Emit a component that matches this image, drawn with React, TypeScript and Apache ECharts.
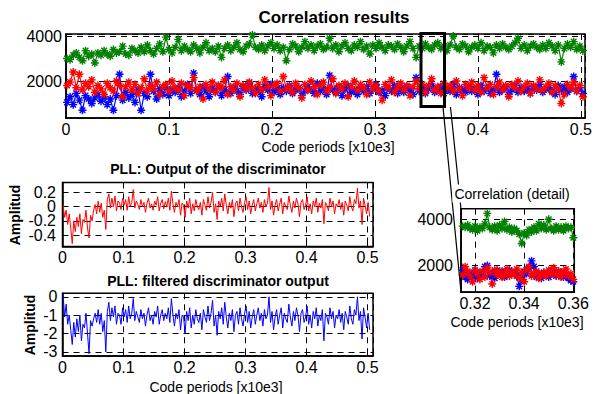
import React, { useEffect, useRef } from "react";
import * as echarts from "echarts";

const FONT = "'Liberation Sans', Arial, Helvetica, sans-serif";

// ---- Top plot: correlation results (x in code periods x10e3) ----
const TOP_X0 = 0.001;
const TOP_STEP = 0.003;
const topGreen = [
  3000, 2950, 3150, 3250, 3050, 2900, 3350, 3100, 3200, 2800, 3250, 3150,
  3350, 3200, 3100, 3400, 3250, 3300, 3550, 3200, 3150, 3450, 3350, 3250,
  3500, 3300, 3600, 3350, 3200, 3450, 3650, 3300, 3950, 3400, 3250, 3500,
  3850, 3350, 3550, 3400, 3300, 3600, 3450, 3250, 3500, 3700, 3350, 3450,
  3300, 3550, 3050, 3450, 3600, 3350, 3500, 3700, 3400, 3300, 3550, 3650,
  4050, 3500, 3400, 3600, 3350, 3550, 3700, 3450, 3600, 3350, 3500, 2900,
  3400, 3650, 3550, 3300, 3500, 3750, 3450, 3600, 3350, 3550, 3650, 3400,
  3500, 3900, 3450, 3600, 3300, 3550, 3700, 3450, 3350, 3600, 3500, 3750,
  3400, 3550, 3200, 3600, 3450, 3700, 3500, 3350, 3600, 3550, 3400, 3650,
  3500, 3300, 3550, 3750, 3450, 3050, 3550, 3450, 3650, 3500, 3400, 3600,
  3700, 3450, 3550, 3350, 3600, 4000, 3500, 3400, 3650, 3550, 3300, 3500,
  3600, 3450, 3700, 3350, 3550, 3500, 3250, 3600, 3450, 3650, 3500, 3400,
  3550, 3700, 3900, 3450, 3600, 3350, 3550, 3650, 3500, 3400, 3600, 3450,
  3700, 3550, 3350, 3600, 2850, 3450, 3650, 3500, 3750, 3400, 3550, 3350,
];
const topRed = [
  1800, 1950, 2400, 1700, 2300, 1600, 1900, 1750, 2050, 1500, 1800, 1650,
  1400, 1900, 1700, 1550, 2000, 1800, 1300, 1750, 1950, 1600, 1850, 1450,
  1700, 2100, 1550, 1800, 1650, 1950, 1400, 1750, 1850, 1550, 2000, 1700,
  1600, 1900, 1350, 1800, 1700, 2150, 1550, 1750, 1200, 1850, 1650, 1950,
  1500, 1800, 1700, 2050, 1400, 1750, 1600, 1900, 1300, 1800, 1650, 1950,
  1700, 1450, 1850, 1600, 2050, 1750, 1350, 1800, 1900, 1550, 2200, 1650,
  1750, 1500, 1900, 1700, 1250, 1850, 1600, 2000, 1750, 1400, 1800, 1950,
  1550, 1700, 2100, 1450, 1800, 1650, 1900, 1300, 1750, 2000, 1600, 1850,
  1700, 1400, 1950, 1650, 1800, 1550, 1150, 1850, 1700, 2050, 1500, 1750,
  1900, 1600, 1800, 1350, 1750, 2000, 1650, 1850, 1500, 1800, 2100, 1600,
  1750, 1450, 1900, 1700, 1800, 1550, 2000, 1650, 1350, 1850, 1700, 1950,
  1600, 1800, 1500, 2150, 1700, 1850, 1400, 1750, 1950, 1600, 1800, 1300,
  1850, 1700, 2000, 1550, 1750, 1900, 1450, 1800, 1650, 2050, 1600, 1750,
  1900, 1500, 1800, 1650, 1000, 1400, 1850, 1700, 1950, 1550, 1800, 1300,
];
const topBlue = [
  1050, 1300, 950, 1450, 1150, 700, 1350, 1200, 1000, 1250, 1400, 1100,
  1300, 950, 1200, 700, 1350, 2300, 1150, 1500, 1250, 1400, 1050, 1600,
  700, 1450, 1300, 2300, 1550, 1200, 1650, 1400, 1750, 1350, 1600, 1500,
  1700, 1300, 1550, 1850, 1450, 2350, 1600, 1400, 1750, 1550, 1300, 1650,
  1500, 1800, 1350, 1600, 2200, 1450, 1700, 1550, 1400, 1750, 1600, 1900,
  1450, 1650, 1550, 1300, 1750, 1600, 1850, 1500, 1650, 1400, 1700, 1550,
  1800, 1450, 1600, 1700, 1350, 1550, 1750, 1600, 1450, 1900, 1550, 1650,
  1400, 2250, 1600, 1500, 1750, 1350, 1650, 1800, 1500, 1600, 1400, 1700,
  1550, 1750, 1450, 1650, 1850, 1500, 1600, 1350, 1700, 1550, 1800, 1450,
  1650, 1500, 1750, 1600, 1400, 2150, 1550, 1700, 1450, 1650, 1800, 1500,
  1600, 1750, 1450, 1650, 1550, 1850, 1400, 1700, 1600, 1500, 1750, 1550,
  1650, 1400, 1800, 1550, 1700, 1450, 1600, 2300, 1500, 1650, 1750, 1400,
  1600, 1800, 1500, 1700, 1550, 1650, 1450, 1750, 1600, 1850, 1500, 1650,
  1700, 1550, 1400, 1800, 1600, 1750, 1500, 1650, 2200, 1550, 1700, 1450,
];

// ---- PLL plots ----
const PLL_X0 = 0.001;
const PLL_STEP = 0.0025;
const pllDisc = [
  0.02, -0.15, -0.05, -0.25, -0.1, -0.3, -0.52, -0.2, -0.35, -0.15,
  -0.28, -0.1, -0.38, -0.18, -0.22, -0.05, -0.3, -0.44, -0.12, -0.2,
  -0.05, 0.03, -0.1, 0.08, -0.08, 0.05, -0.15, -0.05, -0.32, 0.1,
  0.18, -0.02, 0.12, 0.0, 0.15, -0.06, 0.08, 0.05, -0.04, 0.12,
  0.02, 0.1, -0.05, 0.14, 0.0, 0.06, 0.24, -0.02, 0.08, 0.03,
  -0.04, 0.1, 0.0, 0.06, -0.08, 0.05, 0.12, -0.02, 0.04, -0.05,
  0.08, 0.02, 0.14, -0.06, 0.05, 0.1, -0.03, 0.07, 0.0, 0.12,
  -0.05, 0.22, 0.04, -0.08, 0.06, 0.0, 0.1, -0.12, 0.05, 0.02,
  -0.15, 0.08, -0.02, 0.12, -0.1, 0.04, -0.06, 0.1, 0.0, -0.04,
  0.06, -0.12, 0.1, 0.02, -0.05, 0.14, -0.02, 0.06, 0.2, -0.08,
  0.04, -0.18, 0.08, 0.0, 0.12, -0.06, 0.18, 0.02, -0.1, 0.06,
  -0.02, 0.1, -0.14, 0.04, 0.08, -0.06, 0.12, 0.0, -0.08, 0.06,
  0.14, -0.04, 0.08, -0.1, 0.02, 0.1, -0.06, 0.04, 0.12, -0.02,
  0.06, -0.08, 0.1, 0.0, 0.05, 0.27, -0.04, 0.08, -0.12, 0.02,
  0.1, -0.06, 0.04, 0.12, -0.1, 0.06, 0.0, -0.04, 0.15, 0.02,
  -0.08, 0.08, -0.02, 0.12, 0.04, -0.14, 0.06, 0.1, -0.04, 0.02,
  0.14, -0.06, 0.04, -0.1, 0.08, 0.0, 0.12, -0.08, 0.05, -0.02,
  0.1, -0.24, 0.06, 0.02, -0.06, 0.12, 0.0, 0.08, -0.1, 0.04,
  0.0, 0.1, -0.04, 0.06, -0.12, 0.08, 0.02, -0.06, 0.14, 0.0,
  -0.06, 0.1, 0.04, 0.26, -0.02, 0.08, -0.25, 0.12, 0.02, -0.1,
  0.06, -0.14,
];
const pllFiltered = [
  0.1, -1.1, -0.4, -1.5, -1.0, -1.8, -2.6, -1.4, -2.2, -1.2,
  -1.9, -1.0, -2.4, -1.5, -1.7, -0.9, -2.0, -3.1, -1.3, -1.6,
  -1.2, -0.9, -1.4, -0.7, -1.5, -0.9, -1.9, -1.3, -3.0, -0.8,
  -0.3, -1.3, -0.6, -1.1, -0.5, -1.5, -0.9, -1.0, -1.5, -0.6,
  -1.1, -0.7, -1.4, -0.5, -1.2, -0.9, -0.1, -1.3, -0.8, -1.1,
  -1.4, -0.7, -1.2, -0.9, -1.6, -1.0, -0.6, -1.3, -1.0, -1.5,
  -0.8, -1.1, -0.5, -1.5, -1.0, -0.7, -1.3, -0.9, -1.2, -0.6,
  -1.4, -0.1, -1.0, -1.6, -0.9, -1.2, -0.7, -1.8, -1.0, -1.1,
  -2.0, -0.8, -1.3, -0.6, -1.7, -1.0, -1.5, -0.7, -1.2, -1.4,
  -0.9, -1.8, -0.7, -1.1, -1.4, -0.5, -1.3, -0.9, -0.2, -1.6,
  -1.0, -2.1, -0.8, -1.2, -0.6, -1.5, -0.3, -1.1, -1.7, -0.9,
  -1.3, -0.7, -1.9, -1.0, -0.8, -1.5, -0.6, -1.2, -1.6, -0.9,
  -0.5, -1.4, -0.8, -1.7, -1.1, -0.7, -1.5, -1.0, -0.6, -1.3,
  -0.9, -1.6, -0.7, -1.2, -1.0, 0.0, -1.4, -0.8, -1.8, -1.1,
  -0.7, -1.5, -1.0, -0.6, -1.7, -0.9, -1.2, -1.4, -0.4, -1.1,
  -1.6, -0.8, -1.3, -0.6, -1.0, -1.9, -0.9, -0.7, -1.4, -1.1,
  -0.5, -1.5, -1.0, -1.7, -0.8, -1.2, -0.6, -1.6, -1.0, -1.3,
  -0.7, -2.4, -0.9, -1.1, -1.5, -0.6, -1.2, -0.8, -1.7, -1.0,
  -1.2, -0.7, -1.4, -0.9, -1.8, -0.8, -1.1, -1.5, -0.5, -1.2,
  -1.5, -0.7, -1.0, 0.0, -1.3, -0.8, -2.3, -0.6, -1.1, -1.7,
  -0.9, -1.8,
];

// ---- Detail plot (0.315 .. 0.360) ----
const DET_X0 = 0.315;
const DET_STEP = 0.001;
const detGreen = [
  3700, 3650, 3750, 3600, 3550, 3700, 3500, 3650, 3600, 3800, 4250, 3650,
  3550, 3700, 3500, 3750, 3600, 3900, 3550, 3650, 3450, 3600, 3500, 3350,
  2950, 3400, 3300, 3550, 3450, 3650, 3500, 3800, 3600, 3750, 3550, 4000,
  3600, 3500, 3700, 3550, 3650, 3500, 3700, 3600, 3650, 3200,
];
const detRed = [
  1600, 1950, 1750, 1550, 1300, 1800, 1650, 1400, 1750, 1500, 1900, 1700,
  1200, 1800, 1600, 1750, 1500, 1650, 1850, 1550, 1700, 1600, 1850, 1450,
  1700, 1300, 1800, 1950, 1550, 1650, 1750, 1450, 1600, 1700, 1550, 1800,
  1650, 1900, 1600, 1750, 1500, 1700, 1850, 1550, 1650, 1400,
];
const detBlue = [
  1800, 1500, 1400, 1650, 1550, 1800, 1450, 1700, 1600, 1950, 2000, 1550,
  1700, 1450, 1800, 1650, 1750, 1500, 1600, 1800, 1700, 1650, 1550, 1100,
  1400, 1750, 1650, 1900, 2200, 1950, 1500, 1650, 1450, 1700, 1600, 1500,
  1800, 1650, 1550, 1750, 1700, 1500, 1600, 1450, 1350, 1300,
];

const GREEN = "#008000";
const RED = "#ff0000";
const BLUE = "#0000ff";
const STAR = "path://M5,0L5,10M0,5L10,5M1.5,1.5L8.5,8.5M1.5,8.5L8.5,1.5";

const pairs = (x0: number, step: number, ys: number[]) =>
  ys.map((y, i) => [x0 + i * step, y]);

const fmt = (step: number) => (v: number) => {
  const k = v / step;
  if (Math.abs(k - Math.round(k)) > 1e-6) return "";
  return String(parseFloat((Math.round(k) * step).toFixed(4)));
};

function axis(
  gridIndex: number,
  min: number,
  max: number,
  step: number,
  margin: number
) {
  return {
    type: "value",
    gridIndex,
    min,
    max,
    minInterval: step,
    maxInterval: step,
    splitNumber: 4,
    axisLine: { show: true, onZero: false, lineStyle: { color: "#000", width: 1.5 } },
    axisTick: { show: true, inside: true, length: 4, lineStyle: { color: "#000", width: 1 } },
    axisLabel: {
      show: true,
      margin,
      color: "#000",
      fontSize: 16,
      fontFamily: FONT,
      formatter: fmt(step),
    },
    splitLine: { show: true, lineStyle: { color: "#000", width: 1, type: [6, 5] } },
  };
}

function starSeries(xi: number, color: string, data: number[][], size: number) {
  return {
    type: "line",
    xAxisIndex: xi,
    yAxisIndex: xi,
    data,
    symbol: STAR,
    symbolSize: size,
    showSymbol: true,
    silent: true,
    lineStyle: { color, width: 1.2 },
    itemStyle: { color, borderColor: color, borderWidth: 1.4 },
  };
}

function plainSeries(xi: number, color: string, data: number[][]) {
  return {
    type: "line",
    xAxisIndex: xi,
    yAxisIndex: xi,
    data,
    symbol: "none",
    showSymbol: false,
    silent: true,
    lineStyle: { color, width: 1 },
  };
}

const txt = (
  x: number,
  y: number,
  text: string,
  size: number,
  bold: boolean,
  extra: any = {}
) => ({
  type: "text",
  x,
  y,
  z: 20,
  silent: true,
  ...extra,
  style: {
    text,
    fill: "#000",
    font: `${bold ? "bold " : ""}${size}px ${FONT}`,
    align: "center",
    verticalAlign: "middle",
    ...(extra.style || {}),
  },
});

export default function App() {
  const ref = useRef<HTMLDivElement>(null);
  useEffect(() => {
    if (!ref.current) return;
    const chart = echarts.init(ref.current, null, { renderer: "svg" });
    const gridBase = { show: true, borderColor: "#000", borderWidth: 1.5, backgroundColor: "#fff", containLabel: false };
    chart.setOption({
      animation: false,
      backgroundColor: "#fff",
      grid: [
        { ...gridBase, left: 66, top: 34, width: 524.5, height: 84 },
        { ...gridBase, left: 62.5, top: 182.5, width: 310.5, height: 64 },
        { ...gridBase, left: 62.5, top: 293.3, width: 310.5, height: 62.7 },
        { ...gridBase, left: 461, top: 208.7, width: 113.3, height: 83.5 },
      ],
      xAxis: [
        axis(0, 0, 0.504, 0.1, 3),
        axis(1, 0, 0.509, 0.1, 3),
        axis(2, 0, 0.509, 0.1, 3),
        axis(3, 0.3143, 0.3604, 0.02, 3),
      ],
      yAxis: [
        axis(0, 356, 4089, 2000, 4),
        axis(1, -0.56, 0.34, 0.2, 6.5),
        axis(2, -3.23, 0.19, 1, 5),
        axis(3, 847, 4454, 2000, 8),
      ],
      series: [
        starSeries(0, BLUE, pairs(TOP_X0, TOP_STEP, topBlue), 8),
        starSeries(0, GREEN, pairs(TOP_X0, TOP_STEP, topGreen), 8),
        starSeries(0, RED, pairs(TOP_X0, TOP_STEP, topRed), 8),
        plainSeries(1, RED, pairs(PLL_X0, PLL_STEP, pllDisc)),
        plainSeries(2, BLUE, pairs(PLL_X0, PLL_STEP, pllFiltered)),
        starSeries(3, BLUE, pairs(DET_X0, DET_STEP, detBlue), 8),
        starSeries(3, GREEN, pairs(DET_X0, DET_STEP, detGreen), 8),
        starSeries(3, RED, pairs(DET_X0, DET_STEP, detRed), 8),
      ],
      graphic: [
        {
          type: "rect",
          z: 15,
          silent: true,
          shape: { x: 421, y: 33.5, width: 23.5, height: 73 },
          style: { fill: "none", stroke: "#000", lineWidth: 3 },
        },
        {
          type: "line",
          z: 15,
          silent: true,
          shape: { x1: 443, y1: 107, x2: 461, y2: 292 },
          style: { stroke: "#000", lineWidth: 1.2 },
        },
        {
          type: "line",
          z: 15,
          silent: true,
          shape: { x1: 450.5, y1: 107, x2: 461, y2: 209 },
          style: { stroke: "#000", lineWidth: 1.2 },
        },
        txt(334, 17, "Correlation results", 17, true),
        txt(328, 147, "Code periods [x10e3]", 14, false),
        txt(218, 169, "PLL: Output of the discriminator", 14, true),
        txt(218, 281, "PLL: filtered discriminator output", 14, true),
        txt(216, 386.5, "Code periods [x10e3]", 14, false),
        txt(15, 215, "Amplitud", 14, true, { rotation: Math.PI / 2 }),
        txt(30, 325, "Amplitud", 14, true, { rotation: Math.PI / 2 }),
        txt(512, 193.5, "Correlation (detail)", 14, false, {
          style: { backgroundColor: "#fff", padding: [2, 2, 2, 2] },
        }),
        txt(517, 321.7, "Code periods [x10e3]", 14, false),
      ],
    });
    return () => chart.dispose();
  }, []);
  return (
    <div
      ref={ref}
      style={{ position: "fixed", left: 0, top: 0, width: 595, height: 394, background: "#fff" }}
    />
  );
}
